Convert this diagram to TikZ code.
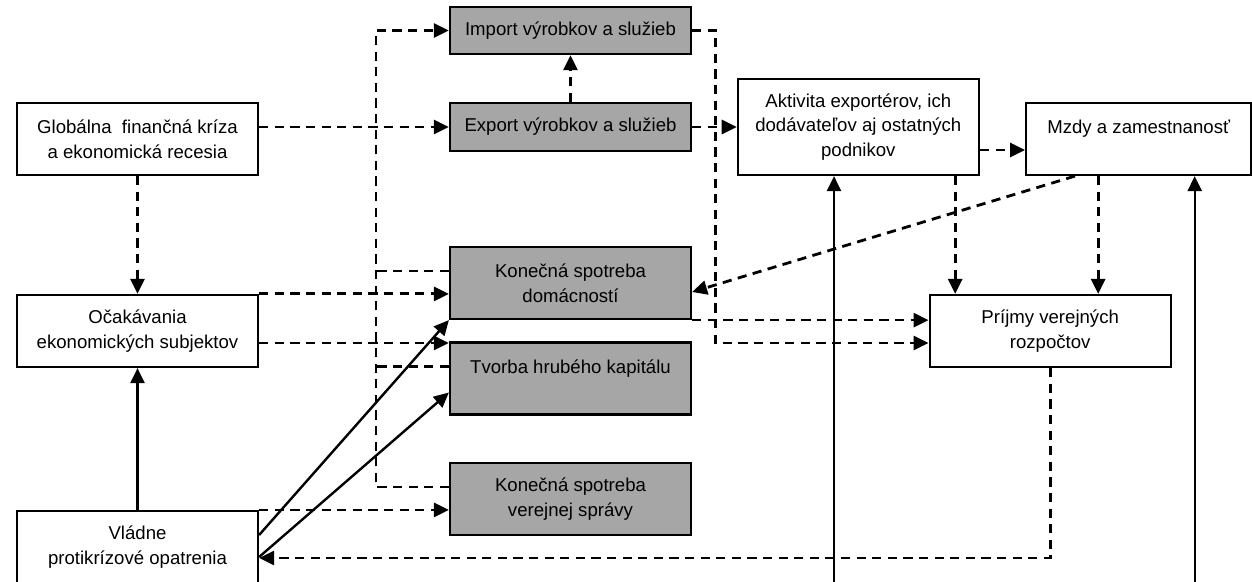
\documentclass[tikz,border=0pt]{standalone}
\usepackage{fontspec}
\setmainfont{Liberation Sans}
\usepackage{xcolor}
\usetikzlibrary{positioning,arrows.meta}
\definecolor{boxgray}{RGB}{166,166,166}

\begin{document}
\begin{tikzpicture}[x=0.5pt,y=-0.5pt,-{Triangle[length=7.5pt,width=7pt]},
		on grid, font=\fontsize{9.3}{12.3}\selectfont,
		box/.style ={ rectangle, draw, black, fill=white, text=black,
			align=center, line width=1.1pt, inner sep=0pt,
			minimum width=120.5pt, minimum height=36pt},
		gbox/.style ={ box, fill=boxgray},
		dline/.style ={ line width=1.4pt, dash pattern=on 4.6pt off 3.2pt},
		sline/.style ={ line width=1.2pt}]
		\useasboundingbox (0,0) rectangle (1252,582);
		\node[box] (glob) at (137.5,139) {Globálna\ \ finančná kríza\\a ekonomická recesia};
		\node[box] (ocak) [below=96pt of glob] {Očakávania\\ekonomických subjektov};
		\node[box] (vlad) [below=108pt of ocak] {Vládne\\protikrízové opatrenia};
		\node[gbox, minimum height=23.5pt] (imp) at (570.5,30.5) {Import výrobkov a služieb};
		\node[gbox, minimum height=24pt] (exp) [below=48.25pt of imp] {Export výrobkov a služieb};
		\node[gbox] (ksd) [below=78pt of exp] {Konečná spotreba\\domácností};
		\node[gbox] (tvor) [below=47.75pt of ksd] {Tvorba hrubého kapitálu\\\mbox{}};
		\node[gbox] (ksvs) [below=60.25pt of tvor] {Konečná spotreba\\verejnej správy};
		\node[box, minimum height=48pt] (akt) [right=143.9pt of exp] {Aktivita exportérov, ich\\dodávateľov aj ostatných\\podnikov};
		\node[box, minimum width=112.5pt] (mzdy) [below right=6pt and 140.2pt of akt] {Mzdy a zamestnanosť\\\mbox{}};
		\node[box] (prij) at (1050.2,331) {Príjmy verejných\\rozpočtov};
		\coordinate (aktin) at (834,582);
		\coordinate (mzdyin) at (1194.7,582);
		\draw[dline] (exp.west -| glob.east) -- (exp.west); % glob to exp
		\draw[dline] (glob) -- (ocak); % glob to ocak
		\draw[sline] (vlad) -- (ocak); % vlad to ocak
		\draw[dline] (exp) -- (imp); % exp to imp
		\draw[dline] (exp) -- (akt); % exp to akt
		\draw[dline] ([yshift=-11.5pt]akt.east) -- ([yshift=-11.5pt]akt.east -| mzdy.west); % akt to mzdy
		\draw[dline] ([xshift=-12.35pt]akt.south east) -- ([xshift=-12.35pt]akt.south east |- prij.north); % akt to prij
		\draw[dline] ([xshift=-20.25pt]mzdy.south) -- ([xshift=-20.25pt]mzdy.south |- prij.north); % mzdy to prij
		\draw[dline] ([xshift=-31.85pt]mzdy.south) -- ([yshift=-4.5pt]ksd.east); % mzdy to ksd
		\draw[dline] (ksd.south east) -- (ksd.south east -| prij.west); % ksd to prij
		\draw[dline] (imp.east) -- ++(11.75pt,0pt) |- ([yshift=-6pt]prij.west); % imp to prij
		\draw[dline] ([yshift=6pt]ksvs.west) -- ++(-36.5pt,0pt) |- (imp.west); % ksvs to imp
		\draw[dline,-] ([yshift=6pt]ksd.west) -- ++(-36.5pt,0pt); % ksd to imp
		\draw[dline,-] ([yshift=6pt]tvor.west) -- ++(-36.5pt,0pt); % tvor to imp
		\draw[dline] (ocak.north east) -- (ocak.north east -| ksd.west); % ocak to ksd
		\draw[dline] ([yshift=-6pt]ocak.east) -- ([yshift=-6pt]ocak.east -| tvor.west); % ocak to tvor
		\draw[dline] (vlad.north east) -- (vlad.north east -| ksvs.west); % vlad to ksvs
		\draw[sline] ([yshift=6pt]vlad.east) -- (ksd.south west); % vlad to ksd
		\draw[sline] ([yshift=-5pt]vlad.east) -- ([yshift=-7pt]tvor.west); % vlad to tvor
		\draw[dline] (prij.south) |- ([yshift=-5.5pt]vlad.east); % prij to vlad
		\draw[sline] (aktin) -- (aktin |- akt.south); % vlad to akt
		\draw[sline] (mzdyin) -- (mzdyin |- mzdy.south); % vlad to mzdy
\end{tikzpicture}
\end{document}
